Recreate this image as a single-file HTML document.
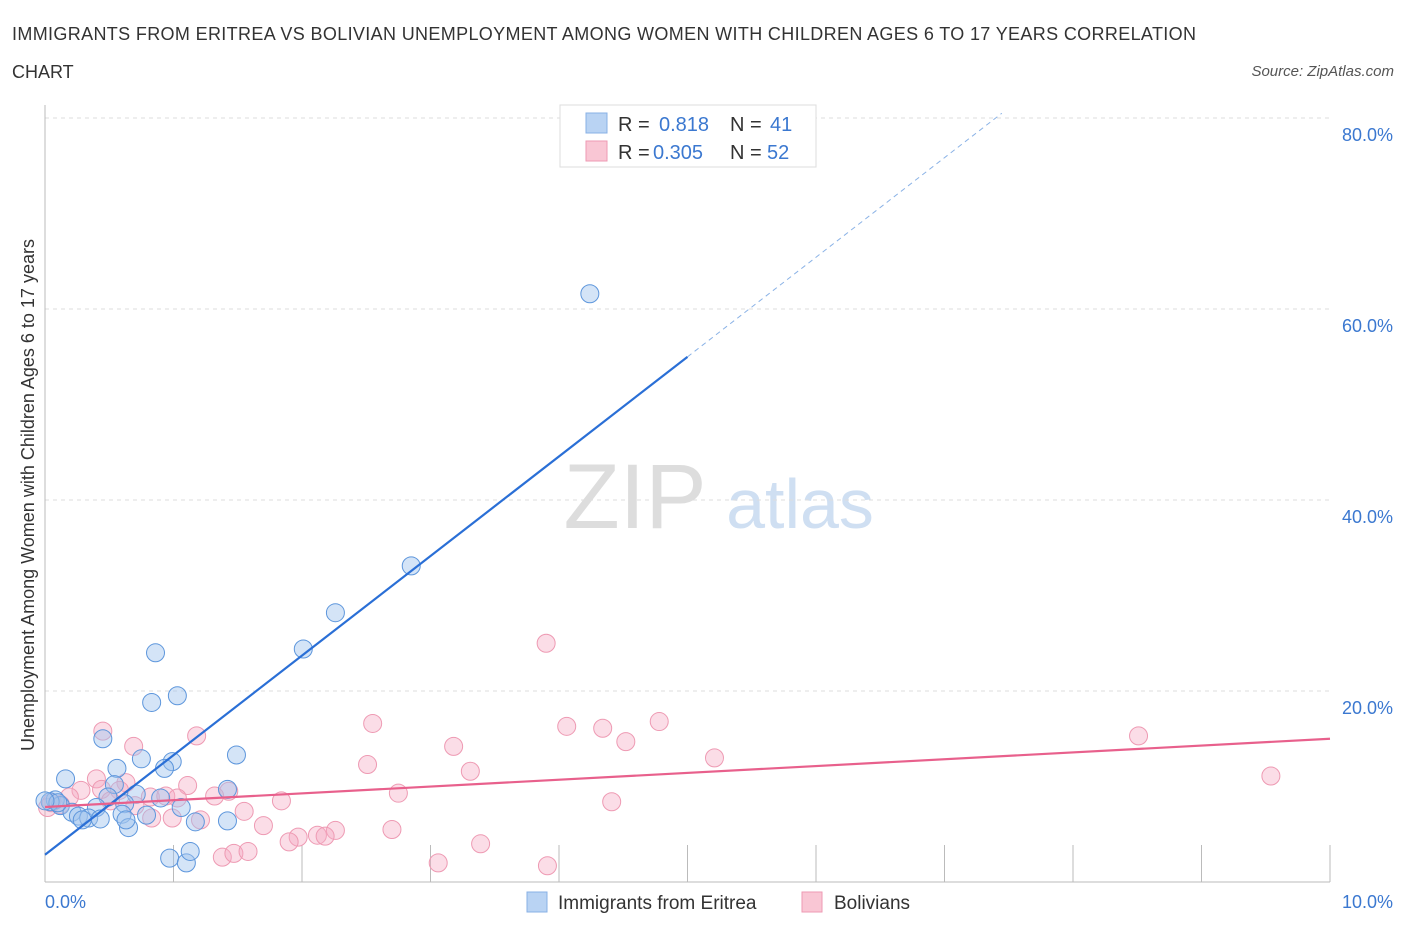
<!DOCTYPE html>
<html><head><meta charset="utf-8"><style>
body{margin:0;background:#fff;font-family:"Liberation Sans",sans-serif;}
svg text{font-family:"Liberation Sans",sans-serif;}
</style></head><body>
<svg id="c" width="1406" height="930" xmlns="http://www.w3.org/2000/svg">
<text x="12" y="40" font-size="18" fill="#333" textLength="1184" lengthAdjust="spacing">IMMIGRANTS FROM ERITREA VS BOLIVIAN UNEMPLOYMENT AMONG WOMEN WITH CHILDREN AGES 6 TO 17 YEARS CORRELATION</text>
<text x="12" y="78" font-size="18" fill="#333">CHART</text>
<text x="1394" y="76" font-size="15" fill="#555" font-style="italic" text-anchor="end">Source: ZipAtlas.com</text>
<text x="635" y="528" font-size="92" fill="#ddd" font-family="Liberation Serif" text-anchor="middle">ZIP</text>
<text x="800" y="528" font-size="70" fill="#cfdff2" text-anchor="middle">atlas</text>
<g id="grid"></g>
<g id="axes"></g>
<g id="pts"></g>
<g id="lines"></g>
<text transform="translate(34,495) rotate(-90)" font-size="18" fill="#333" text-anchor="middle">Unemployment Among Women with Children Ages 6 to 17 years</text>
<g>
<rect x="560" y="105" width="256" height="62" fill="#fff" stroke="#ddd"/>
<rect x="586" y="113" width="21" height="20" fill="#b9d3f3" stroke="#88b0e6"/>
<rect x="586" y="141" width="21" height="20" fill="#f9c6d4" stroke="#ee9ab3"/>
<text x="618" y="131" font-size="20" fill="#333">R = </text><text x="659" y="131" font-size="20" fill="#3b78d0">0.818</text>
<text x="730" y="131" font-size="20" fill="#333">N = </text><text x="770" y="131" font-size="20" fill="#3b78d0">41</text>
<text x="618" y="159" font-size="20" fill="#333">R = </text><text x="653" y="159" font-size="20" fill="#3b78d0">0.305</text>
<text x="730" y="159" font-size="20" fill="#333">N = </text><text x="767" y="159" font-size="20" fill="#3b78d0">52</text>
</g>
<g>
<rect x="527" y="892" width="20" height="20" fill="#b9d3f3" stroke="#88b0e6"/>
<text x="558" y="909" font-size="19" fill="#333">Immigrants from Eritrea</text>
<rect x="802" y="892" width="20" height="20" fill="#f9c6d4" stroke="#ee9ab3"/>
<text x="834" y="909" font-size="19" fill="#333">Bolivians</text>
</g>
</svg>
<script>
const blueX=[4.24,2.85,2.26,2.01,0.86,1.03,0.83,0.45,1.49,0.75,0.99,0.56,0.93,0.16,0.54,1.42,0.49,0.71,1.06,0.62,0.40,0.08,0.12,0.21,0.26,0.34,0.29,0.43,0.79,0.60,1.17,1.42,0.65,0.63,0.97,1.10,1.13,0.04,0.10,0.90,0.0];
const blueY=[61.6,33.1,28.2,24.4,24.0,19.5,18.8,15.0,13.3,12.9,12.6,11.9,11.9,10.8,10.2,9.7,8.9,9.2,7.8,8.2,7.8,8.6,8.0,7.3,6.9,6.7,6.5,6.6,7.0,7.1,6.3,6.4,5.7,6.5,2.5,2.0,3.2,8.4,8.3,8.8,8.5];
const pinkX=[3.90,2.55,0.45,1.18,4.06,4.34,4.78,4.52,0.69,3.18,8.51,5.21,2.51,3.31,0.40,9.54,0.63,1.11,0.58,0.28,0.44,0.82,1.43,1.32,1.84,0.94,1.03,4.41,2.75,0.51,0.70,1.55,1.70,0.83,0.99,1.21,2.26,2.70,1.97,1.90,2.12,2.18,3.39,3.06,3.91,1.38,1.47,1.58,0.05,0.19,0.02,0.12];
const pinkY=[25.0,16.6,15.8,15.3,16.3,16.1,16.8,14.7,14.2,14.2,15.3,13.0,12.3,11.6,10.8,11.1,10.4,10.1,9.6,9.6,9.7,8.9,9.5,9.0,8.5,9.0,8.8,8.4,9.3,8.5,8.0,7.4,5.9,6.7,6.7,6.5,5.4,5.5,4.7,4.2,4.9,4.8,4.0,2.0,1.7,2.6,3.0,3.2,8.3,8.9,7.8,8.1];
const yTicks=[20,40,60,80];
const x0=45,x1=1330,yb=882,py=9.55;
const X=v=>x0+(v/10)*(x1-x0), Y=v=>yb-v*py;
const NS="http://www.w3.org/2000/svg";
function mk(p,t,a){const e=document.createElementNS(NS,t);for(const k in a)e.setAttribute(k,a[k]);document.getElementById(p).appendChild(e);return e;}
yTicks.forEach(t=>{
 const l=mk('grid','line',{x1:45,x2:1330,y1:Y(t),y2:Y(t),stroke:'#ddd','stroke-dasharray':'4,4'});
 
 
 const tx=mk('grid','text',{x:1393,y:Y(t)+23,'font-size':18,fill:'#3b78d0','text-anchor':'end'});tx.textContent=t.toFixed(1)+'%';
 
 
});
mk('axes','line',{x1:45,x2:45,y1:105,y2:882,stroke:'#bbb'});
mk('axes','line',{x1:45,x2:1330,y1:882,y2:882,stroke:'#bbb'});
for(let i=1;i<=10;i++){mk('axes','line',{x1:X(i),x2:X(i),y1:845,y2:882,stroke:'#bbb'});}
let t0=mk('axes','text',{x:45,y:908,'font-size':18,fill:'#3b78d0'});t0.textContent='0.0%';


let t1=mk('axes','text',{x:1393,y:908,'font-size':18,fill:'#3b78d0','text-anchor':'end'});t1.textContent='10.0%';


pinkX.forEach((v,i)=>{const c=mk('pts','circle',{cx:X(v),cy:Y(pinkY[i]),r:9,fill:'rgba(246,170,195,0.4)',stroke:'#ee9ab3','stroke-width':1});
 
 });
blueX.forEach((v,i)=>{const c=mk('pts','circle',{cx:X(v),cy:Y(blueY[i]),r:9,fill:'rgba(160,196,238,0.45)',stroke:'#5d96dc','stroke-width':1});
 
 });
function fit(xs,ys){const n=xs.length,mx=xs.reduce((a,b)=>a+b)/n,my=ys.reduce((a,b)=>a+b)/n;let sxy=0,sxx=0;xs.forEach((x,i)=>{sxy+=(x-mx)*(ys[i]-my);sxx+=(x-mx)**2});const b=sxy/sxx;return [my-b*mx,b];}
const [ba,bb]=fit(blueX,blueY),[pa,pb]=fit(pinkX,pinkY);
let bl=mk('lines','line',{x1:X(0),y1:Y(ba),x2:X(5),y2:Y(ba+bb*5),stroke:'#2a6fd6','stroke-width':2.2});


const xd=(80.5-ba)/bb;
let bd=mk('lines','line',{x1:X(5),y1:Y(ba+bb*5),x2:X(xd),y2:Y(ba+bb*xd),stroke:'#8ab2e6','stroke-width':1,'stroke-dasharray':'5,4'});


let pl=mk('lines','line',{x1:X(0),y1:Y(pa),x2:X(10),y2:Y(pa+pb*10),stroke:'#e8608c','stroke-width':2.2});


</script>
</body></html>
